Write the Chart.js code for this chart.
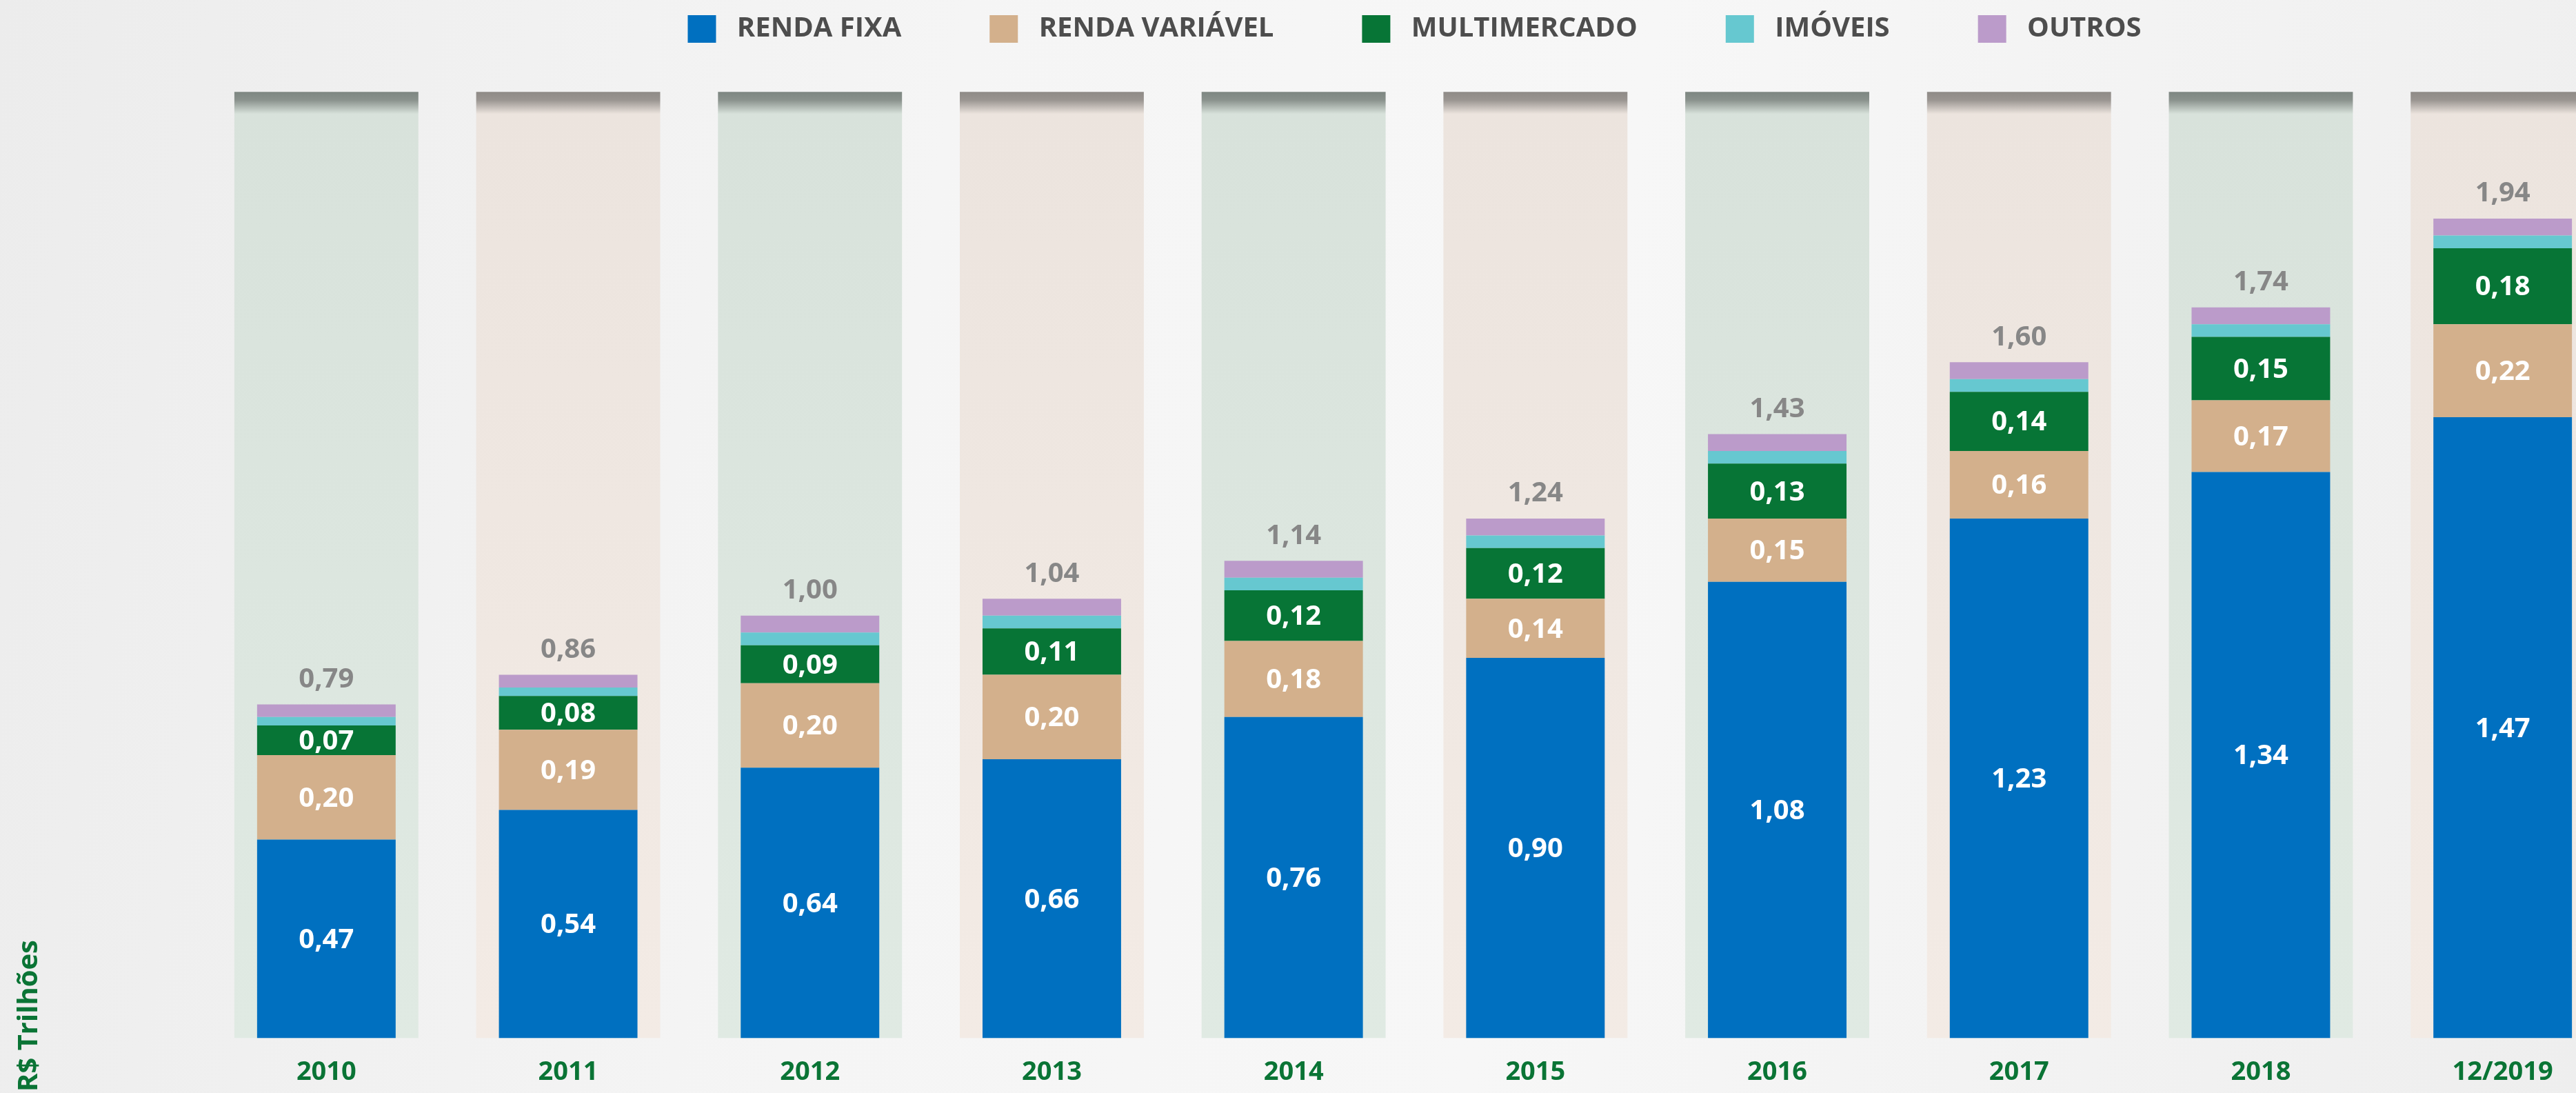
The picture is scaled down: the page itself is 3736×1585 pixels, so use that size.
<!DOCTYPE html>
<html lang="pt-BR">
<head>
    <meta charset="UTF-8">
    <title>Patrimônio por classe</title>
    <script src="https://cdn.jsdelivr.net/npm/chart.js"></script>
    <style>
        html, body { margin: 0; padding: 0; overflow: hidden; }
        body {
            width: 3736px; height: 1585px;
            background: linear-gradient(100deg, #ececec 0%, #f5f5f5 35%, #f7f7f7 60%, #eeeeee 100%);
        }
        #wrap { position: relative; width: 3820px; height: 1585px; }
    </style>
</head>
<body>
    <div id="wrap"><canvas id="myChart"></canvas></div>

    <script>
        // dados (R$ trilhões)
        const categorias = ['2010', '2011', '2012', '2013', '2014', '2015', '2016', '2017', '2018', '12/2019'];
        const rendaFixa     = [0.47, 0.54, 0.64, 0.66, 0.76, 0.90, 1.08, 1.23, 1.34, 1.47];
        const rendaVariavel = [0.20, 0.19, 0.20, 0.20, 0.18, 0.14, 0.15, 0.16, 0.17, 0.22];
        const multimercado  = [0.07, 0.08, 0.09, 0.11, 0.12, 0.12, 0.13, 0.14, 0.15, 0.18];
        const imoveis       = [0.02, 0.02, 0.03, 0.03, 0.03, 0.03, 0.03, 0.03, 0.03, 0.03];
        const outros        = [0.03, 0.03, 0.04, 0.04, 0.04, 0.04, 0.04, 0.04, 0.04, 0.04];
        const totais        = [0.79, 0.86, 1.00, 1.04, 1.14, 1.24, 1.43, 1.60, 1.74, 1.94];

        const FAIXA = 2.24; // altura das colunas de fundo
        const fmt = v => v.toFixed(2).replace('.', ',');

        Chart.defaults.font.family = "'Open Sans', sans-serif";

        // gradiente das colunas de fundo (sombra no topo)
        function corFaixa(context) {
            const chart = context.chart;
            const verde = context.dataIndex % 2 === 0;
            const base = verde ? '#e0eae3' : '#f3ebe5';
            if (!chart.chartArea) return base;
            const y = chart.scales.y;
            const top = y.getPixelForValue(FAIXA);
            const bottom = y.getPixelForValue(0);
            const g = chart.ctx.createLinearGradient(0, top, 0, bottom);
            const h = bottom - top;
            g.addColorStop(0, verde ? '#7d8681' : '#8e8a86');
            g.addColorStop(12 / h, verde ? '#8a928d' : '#9a9591');
            g.addColorStop(32 / h, verde ? '#d8e2db' : '#ece4de');
            g.addColorStop(1, base);
            return g;
        }

        const rotulos = {
            id: 'rotulos',
            afterDatasetsDraw(chart) {
                const ctx = chart.ctx;
                ctx.save();
                ctx.font = "bold 40px 'Open Sans'";
                ctx.textAlign = 'center';
                ctx.textBaseline = 'middle';
                [0, 1, 2].forEach(i => {
                    const ds = chart.data.datasets[i];
                    chart.getDatasetMeta(i).data.forEach((el, j) => {
                        ctx.fillStyle = '#ffffff';
                        ctx.fillText(fmt(ds.data[j]), el.x, (el.y + el.base) / 2 + 2);
                    });
                });
                chart.getDatasetMeta(4).data.forEach((el, j) => {
                    ctx.fillStyle = '#878787';
                    ctx.fillText(fmt(totais[j]), el.x, el.y - 36);
                });
                // titulo do eixo y
                ctx.translate(43, 1583);
                ctx.rotate(-Math.PI / 2);
                ctx.textAlign = 'left';
                ctx.fillStyle = '#0a7435';
                ctx.fillText('R$ Trilhões', 0, 0);
                ctx.restore();
            }
        };

        const serie = (label, data, cor) => ({
            label: label, data: data, backgroundColor: cor, borderWidth: 0,
            stack: 'main', barPercentage: 0.573, categoryPercentage: 1, order: 0
        });

        const ctx = document.getElementById('myChart').getContext('2d');
        const myChart = new Chart(ctx, {
            type: 'bar',
            data: {
                labels: categorias,
                datasets: [
                    serie('RENDA FIXA', rendaFixa, '#0070c0'),
                    serie('RENDA VARIÁVEL', rendaVariavel, '#d3b08c'),
                    serie('MULTIMERCADO', multimercado, '#077536'),
                    serie('IMÓVEIS', imoveis, '#66c8d0'),
                    serie('OUTROS', outros, '#bb9bca'),
                    {
                        label: 'fundo',
                        data: categorias.map(() => FAIXA),
                        backgroundColor: corFaixa,
                        borderWidth: 0,
                        stack: 'fundo',
                        grouped: false,
                        barPercentage: 0.761,
                        categoryPercentage: 1,
                        order: 99
                    }
                ]
            },
            options: {
                responsive: true,
                maintainAspectRatio: false,
                animation: false,
                layout: { padding: { left: 298, right: 15, top: -106, bottom: -20 } },
                plugins: {
                    tooltip: { enabled: false },
                    legend: {
                        position: 'top',
                        fullSize: false,
                        labels: {
                            boxWidth: 41,
                            boxHeight: 40,
                            padding: 128,
                            color: '#4d4d4d',
                            font: { size: 40, weight: 'bold' },
                            filter: item => item.datasetIndex !== 5,
                            generateLabels: chart =>
                                Chart.defaults.plugins.legend.labels.generateLabels(chart)
                                    .map(it => Object.assign(it, { text: ' ' + it.text }))
                        }
                    }
                },
                scales: {
                    x: {
                        stacked: true,
                        grid: { display: false, drawTicks: false },
                        border: { display: false },
                        ticks: { color: '#0a7435', padding: 27, font: { size: 38, weight: 'bold' } }
                    },
                    y: {
                        stacked: true,
                        display: false,
                        min: 0,
                        max: 2.34
                    }
                }
            },
            plugins: [rotulos]
        });
    </script>
</body>
</html>
